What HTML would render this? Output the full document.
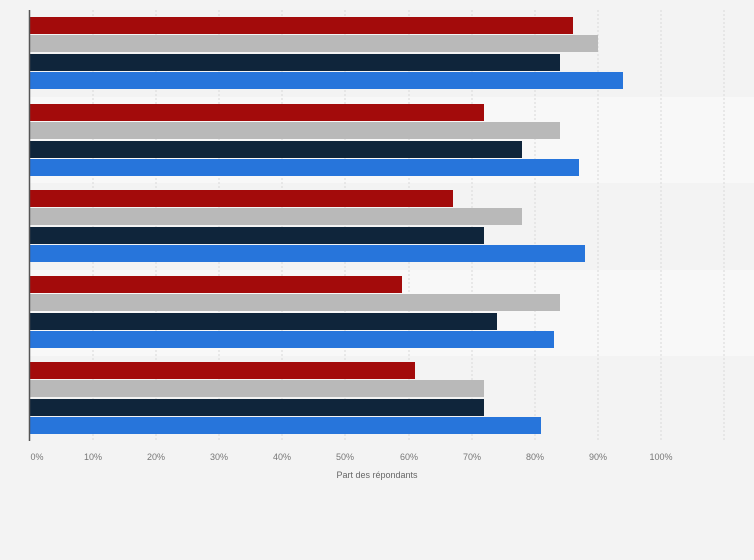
<!DOCTYPE html>
<html><head><meta charset="utf-8"><style>
html,body{margin:0;padding:0;background:#f3f3f3;}
svg{display:block;font-family:"Liberation Sans",sans-serif;}
</style></head><body>
<svg width="754" height="560" viewBox="0 0 754 560" xmlns="http://www.w3.org/2000/svg">
<rect width="754" height="560" fill="#f3f3f3"/>
<rect x="30" y="10" width="724" height="87" fill="#f3f3f3"/>
<rect x="30" y="97" width="724" height="86" fill="#f8f8f8"/>
<rect x="30" y="183" width="724" height="87" fill="#f3f3f3"/>
<rect x="30" y="270" width="724" height="86" fill="#f8f8f8"/>
<rect x="30" y="356" width="724" height="85" fill="#f3f3f3"/>
<g stroke="#d8d8d8" stroke-width="1" stroke-dasharray="2,2">
<line x1="93" y1="10" x2="93" y2="441"/><line x1="156" y1="10" x2="156" y2="441"/><line x1="219" y1="10" x2="219" y2="441"/><line x1="282" y1="10" x2="282" y2="441"/><line x1="345" y1="10" x2="345" y2="441"/><line x1="409" y1="10" x2="409" y2="441"/><line x1="472" y1="10" x2="472" y2="441"/><line x1="535" y1="10" x2="535" y2="441"/><line x1="598" y1="10" x2="598" y2="441"/><line x1="661" y1="10" x2="661" y2="441"/><line x1="724" y1="10" x2="724" y2="441"/>
</g>
<g>
<rect x="30" y="17" width="543" height="17" fill="#a30b0b"/>
<rect x="30" y="35" width="568" height="17" fill="#b9b9b9"/>
<rect x="30" y="54" width="530" height="17" fill="#0f253b"/>
<rect x="30" y="72" width="593" height="17" fill="#2775db"/>

<rect x="30" y="104" width="454" height="17" fill="#a30b0b"/>
<rect x="30" y="122" width="530" height="17" fill="#b9b9b9"/>
<rect x="30" y="141" width="492" height="17" fill="#0f253b"/>
<rect x="30" y="159" width="549" height="17" fill="#2775db"/>

<rect x="30" y="190" width="423" height="17" fill="#a30b0b"/>
<rect x="30" y="208" width="492" height="17" fill="#b9b9b9"/>
<rect x="30" y="227" width="454" height="17" fill="#0f253b"/>
<rect x="30" y="245" width="555" height="17" fill="#2775db"/>

<rect x="30" y="276" width="372" height="17" fill="#a30b0b"/>
<rect x="30" y="294" width="530" height="17" fill="#b9b9b9"/>
<rect x="30" y="313" width="467" height="17" fill="#0f253b"/>
<rect x="30" y="331" width="524" height="17" fill="#2775db"/>

<rect x="30" y="362" width="385" height="17" fill="#a30b0b"/>
<rect x="30" y="380" width="454" height="17" fill="#b9b9b9"/>
<rect x="30" y="399" width="454" height="17" fill="#0f253b"/>
<rect x="30" y="417" width="511" height="17" fill="#2775db"/>
</g>
<line x1="29.5" y1="10" x2="29.5" y2="441" stroke="#555" stroke-width="1.5"/>
<g font-size="9" fill="#777" text-anchor="middle">
<text x="37" y="460">0%</text><text x="93" y="460">10%</text><text x="156" y="460">20%</text><text x="219" y="460">30%</text><text x="282" y="460">40%</text><text x="345" y="460">50%</text><text x="409" y="460">60%</text><text x="472" y="460">70%</text><text x="535" y="460">80%</text><text x="598" y="460">90%</text><text x="661" y="460">100%</text>
</g>
<text x="377" y="478" font-size="9" fill="#666" text-anchor="middle">Part des répondants</text>
</svg>
</body></html>
